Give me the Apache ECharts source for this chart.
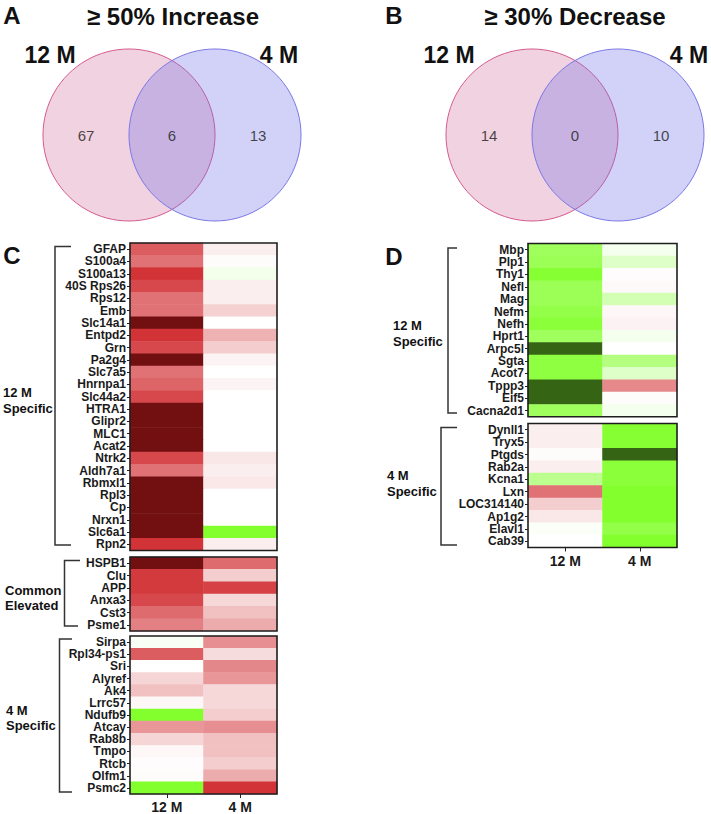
<!DOCTYPE html>
<html>
<head>
<meta charset="utf-8">
<script src="https://cdn.jsdelivr.net/npm/echarts@6/dist/echarts.min.js"></script>
<style>
  html, body { margin: 0; padding: 0; background: #fff; }
  #chart { width: 711px; height: 814px; }
</style>
</head>
<body>
<div id="chart"></div>
<script>
// ---- data ----
var vennSets = ['12 M', '4 M']
var increaseCounts = [67, 6, 13]   // 12 M only, both, 4 M only
var decreaseCounts = [14, 0, 10]
var ageCols = ['12 M', '4 M']

// C: increased proteins
var c12Genes = ['GFAP', 'S100a4', 'S100a13', '40S Rps26', 'Rps12', 'Emb', 'Slc14a1', 'Entpd2', 'Grn', 'Pa2g4',
  'Slc7a5', 'Hnrnpa1', 'Slc44a2', 'HTRA1', 'Glipr2', 'MLC1', 'Acat2', 'Ntrk2', 'Aldh7a1', 'Rbmxl1',
  'Rpl3', 'Cp', 'Nrxn1', 'Slc6a1', 'Rpn2']
var c12Old = [1.15, 1.0, 1.45, 1.3, 1.0, 1.0, 3, 1.45, 1.3, 3, 1.0, 1.1, 1.3, 3, 3, 3, 3, 1.3, 1.0, 3, 3, 3, 3, 3, 1.45]
var c12Young = [0.12, 0.03, -0.15, 0.12, 0.12, 0.33, 0, 0.55, 0.35, 0.08, 0, 0.08, 0, 0, 0, 0, 0, 0.18, 0.12, 0.16, 0, 0, 0, -1.5, 0.12]

var cComGenes = ['HSPB1', 'Clu', 'APP', 'Anxa3', 'Cst3', 'Psme1']
var cComOld = [3, 1.4, 1.4, 1.3, 1.05, 0.9]
var cComYoung = [1.05, 0.35, 1.35, 0.28, 0.45, 0.6]

var c4Genes = ['Sirpa', 'Rpl34-ps1', 'Sri', 'Alyref', 'Ak4', 'Lrrc57', 'Ndufb9', 'Atcay', 'Rab8b', 'Tmpo', 'Rtcb', 'Olfm1', 'Psmc2']
var c4Old = [-0.08, 1.15, 0, 0.3, 0.45, 0.06, -1.5, 0.75, 0.3, 0.06, 0.02, 0.03, -1.5]
var c4Young = [0.8, 0.25, 0.85, 0.75, 0.28, 0.28, 0.35, 0.8, 0.45, 0.45, 0.35, 0.6, 1.45]

// D: decreased proteins
var d12Genes = ['Mbp', 'Plp1', 'Thy1', 'Nefl', 'Mag', 'Nefm', 'Nefh', 'Hprt1', 'Arpc5l', 'Sgta', 'Acot7', 'Tppp3', 'Eif5', 'Cacna2d1']
var d12Old = [-1.15, -1.2, -1.45, -1.2, -1.2, -1.3, -1.4, -1.15, -3, -1.35, -1.35, -3, -3, -1.15]
var d12Young = [-0.12, -0.39, 0.02, 0.04, -0.53, 0.06, 0.09, -0.12, 0, -0.9, -0.39, 0.84, 0.03, -0.12]

var d4Genes = ['Dynll1', 'Tryx5', 'Ptgds', 'Rab2a', 'Kcna1', 'Lxn', 'LOC314140', 'Ap1g2', 'Elavl1', 'Cab39']
var d4Old = [0.12, 0.12, 0.03, 0.12, -0.8, 1.0, 0.35, 0.17, -0.06, 0]
var d4Young = [-1.45, -1.45, -3, -1.4, -1.4, -1.5, -1.5, -1.5, -1.3, -1.5]

// ---- chart ----
var FONT = 'Liberation Sans, Arial, sans-serif'
var myChart = echarts.init(document.getElementById('chart'), null, { renderer: 'svg' })

var grids = [
  { left: 43, top: 49, width: 258, height: 172 },          // A venn
  { left: 446, top: 49, width: 258, height: 172 },         // B venn
  { left: 130, top: 243, width: 147, height: 307.5 },      // C 12 M specific
  { left: 130, top: 557, width: 147, height: 74 },         // C common
  { left: 130, top: 636, width: 147, height: 160 },        // C 4 M specific
  { left: 528, top: 243.5, width: 149, height: 173.3 },    // D 12 M specific
  { left: 528, top: 423.5, width: 149, height: 124 }       // D 4 M specific
]
grids.forEach(function (g, i) {
  if (i >= 2) {
    g.show = true
    g.borderColor = '#1e1e1e'
    g.borderWidth = 1.6
    g.backgroundColor = 'transparent'
    g.z = 5
  }
})

var xAxes = []
var yAxes = []
var series = []

// venn diagrams
function venn(gi, counts) {
  xAxes.push({ gridIndex: gi, type: 'value', min: -1, max: 2, show: false })
  yAxes.push({ gridIndex: gi, type: 'value', min: -1, max: 1, show: false })
  var fills = ['rgba(205,105,152,0.3)', 'rgba(105,105,232,0.3)']
  var borders = ['#d65a8e', '#7b78e6']
  vennSets.forEach(function (name, k) {
    series.push({
      type: 'scatter', name: name, xAxisIndex: gi, yAxisIndex: gi, silent: true, clip: false,
      symbol: 'circle', symbolSize: 172,
      itemStyle: { color: fills[k], borderColor: borders[k], borderWidth: 1, opacity: 1 },
      emphasis: { disabled: true },
      data: [[k, 0]]
    })
  })
  series.push({
    type: 'scatter', xAxisIndex: gi, yAxisIndex: gi, silent: true, clip: false,
    symbolSize: 0,
    label: {
      show: true, position: 'inside', fontFamily: FONT, fontSize: 15, color: '#1a1a1a',
      formatter: function (p) { return counts[p.dataIndex] }
    },
    data: counts.map(function (c, k) { return [k - 0.5, 0] })
  })
}
venn(0, increaseCounts)
venn(1, decreaseCounts)

var heatSeries = []
function heatPanel(gi, genes, oldVals, youngVals, showX) {
  xAxes.push({
    gridIndex: gi, type: 'category', data: ageCols, position: 'bottom',
    axisLine: { show: false },
    axisTick: { show: showX, alignWithLabel: true, length: 4, lineStyle: { color: '#222' } },
    axisLabel: { show: showX, fontFamily: FONT, fontWeight: 'bold', fontSize: 14, color: '#1a1a1a', margin: 6 },
    splitLine: { show: false }
  })
  yAxes.push({
    gridIndex: gi, type: 'category', data: genes, inverse: true,
    axisLine: { show: false },
    axisTick: { show: true, alignWithLabel: true, length: 3, lineStyle: { color: '#222' } },
    axisLabel: {
      interval: 0, fontFamily: FONT, fontWeight: 'bold', fontSize: 12, lineHeight: 11,
      color: '#1a1a1a', margin: 4
    },
    splitLine: { show: false }
  })
  var data = []
  genes.forEach(function (g, r) {
    data.push([0, r, oldVals[r]])
    data.push([1, r, youngVals[r]])
  })
  heatSeries.push(series.length)
  series.push({
    type: 'heatmap', xAxisIndex: gi, yAxisIndex: gi, silent: true,
    itemStyle: { borderWidth: 0 },
    emphasis: { disabled: true },
    data: data
  })
}
heatPanel(2, c12Genes, c12Old, c12Young, false)
heatPanel(3, cComGenes, cComOld, cComYoung, false)
heatPanel(4, c4Genes, c4Old, c4Young, true)
heatPanel(5, d12Genes, d12Old, d12Young, false)
heatPanel(6, d4Genes, d4Old, d4Young, true)

// headings, set names, group labels
function txt(x, y, s, size, align, weight) {
  return {
    type: 'text', x: x, y: y, silent: true,
    style: {
      text: s, fill: '#111', textAlign: align || 'center', textVerticalAlign: 'middle',
      font: (weight || 'bold') + ' ' + size + 'px ' + FONT
    }
  }
}
function bracket(x, y1, y2, x2a, x2b) {
  return {
    type: 'polyline', silent: true,
    shape: { points: [[x2a, y1], [x, y1], [x, y2], [x2b, y2]] },
    style: { stroke: '#333', lineWidth: 1.5, fill: null }
  }
}
var graphics = [
  txt(12, 15, 'A', 24), txt(173, 16, '≥ 50% Increase', 24),
  txt(50, 55, '12 M', 23), txt(279, 55, '4 M', 23),
  txt(394, 15, 'B', 24), txt(575, 16, '≥ 30% Decrease', 24),
  txt(449, 55, '12 M', 23), txt(689, 55, '4 M', 23),
  txt(12, 255, 'C', 24), txt(394, 256, 'D', 24),
  txt(3, 392, '12 M', 13, 'left'), txt(3, 408, 'Specific', 13, 'left'),
  txt(5, 590, 'Common', 13, 'left'), txt(5, 605, 'Elevated', 13, 'left'),
  txt(6, 710, '4 M', 13, 'left'), txt(6, 725, 'Specific', 13, 'left'),
  txt(393, 325, '12 M', 13, 'left'), txt(393, 341, 'Specific', 13, 'left'),
  txt(387, 475, '4 M', 13, 'left'), txt(387, 491, 'Specific', 13, 'left'),
  bracket(55, 246.5, 545, 71, 71),
  bracket(64.5, 560.5, 626, 80, 78),
  bracket(59.5, 639, 792, 72, 72),
  bracket(448, 248, 413, 457, 457),
  bracket(441, 427.5, 545, 457, 457)
]

const option = {
  backgroundColor: '#fff',
  animation: false,
  grid: grids,
  xAxis: xAxes,
  yAxis: yAxes,
  visualMap: {
    type: 'continuous', show: false, min: -3, max: 3,
    seriesIndex: heatSeries,
    inRange: { color: ['#346414', '#82ff2c', '#ffffff', '#d02c30', '#720f10'] }
  },
  graphic: graphics,
  series: series
}
myChart.setOption(option)
</script>
</body>
</html>
